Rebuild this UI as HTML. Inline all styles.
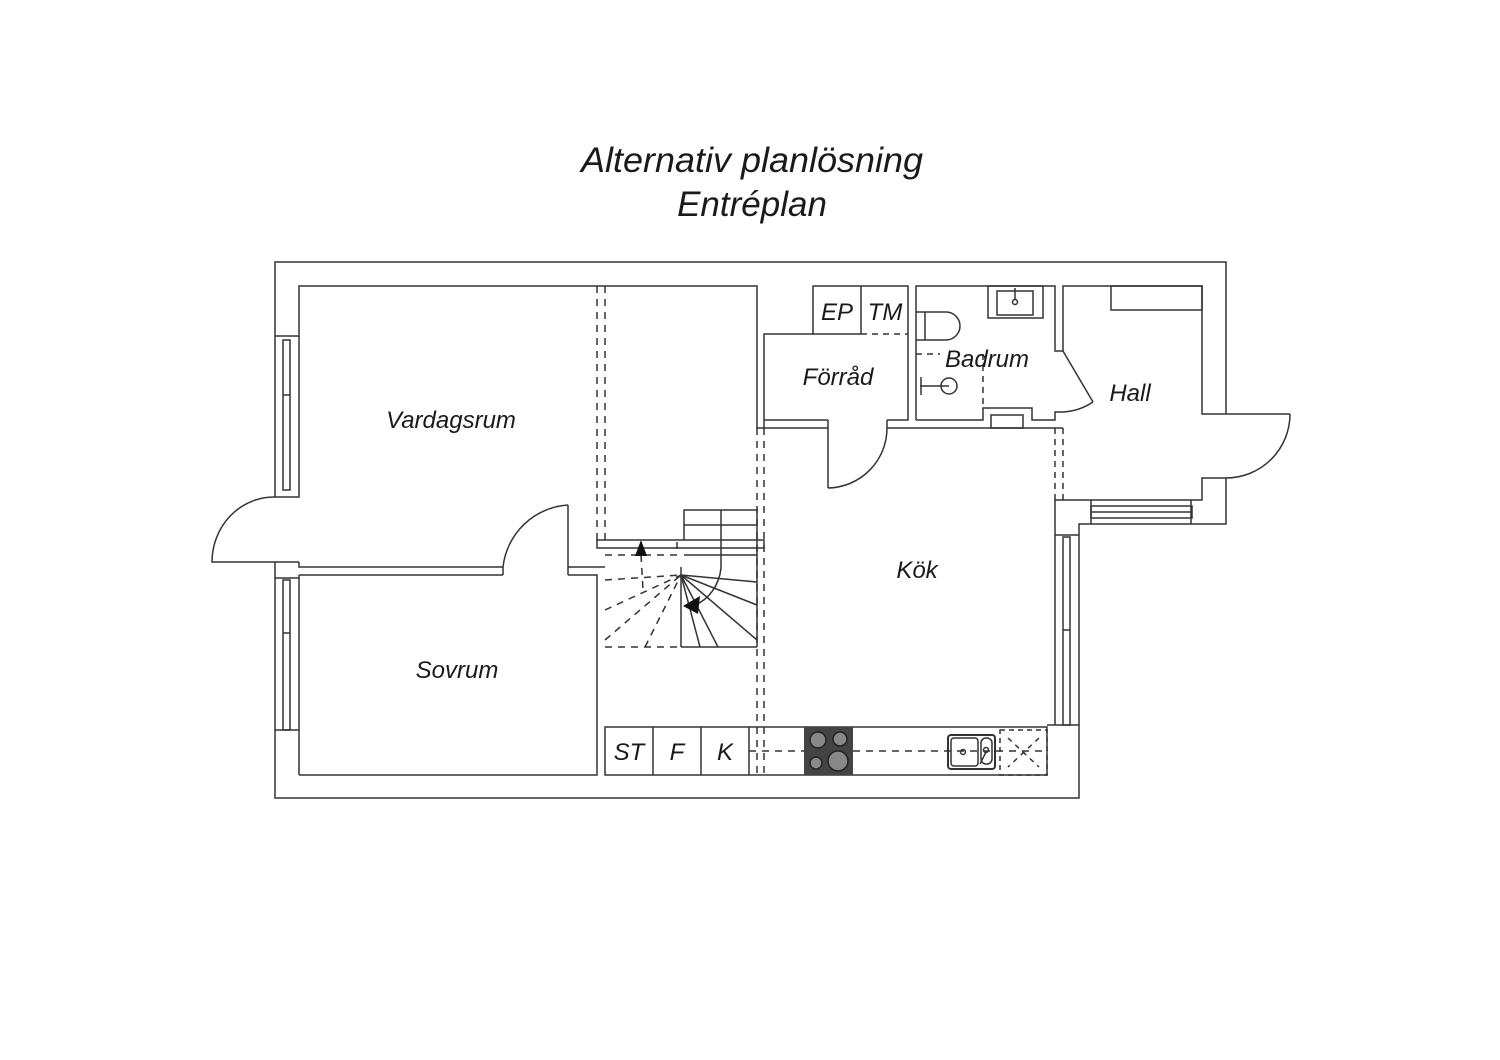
<!DOCTYPE html>
<html><head><meta charset="utf-8"><style>
html,body{margin:0;padding:0;background:#fff;}
svg{display:block;}
text{font-family:"Liberation Sans",sans-serif;font-style:italic;fill:#1a1a1a;}
</style></head><body>
<svg width="1500" height="1060" viewBox="0 0 1500 1060" xmlns="http://www.w3.org/2000/svg">
<text x="752" y="172" font-size="35" text-anchor="middle" textLength="342" lengthAdjust="spacingAndGlyphs">Alternativ planlösning</text>
<text x="752" y="216" font-size="35" text-anchor="middle">Entréplan</text>
<g fill="none" stroke="#333" stroke-width="1.5">
<polyline points="275,497 275,262 1226,262 1226,414"/>
<polyline points="1226,478 1226,524 1079,524 1079,798 275,798 275,562"/>
<polyline points="275,336 299,336 299,286 757,286 757,428 764,428 764,334 813,334 813,286 908,286 908,420 887,420"/>
<polyline points="828,420 764,420"/>
<rect x="283" y="340" width="7" height="150"/><line x1="283" y1="395" x2="290" y2="395"/>
<polyline points="275,497 299,497 299,336"/>
<polyline points="299,562 299,567 503,567"/>
<polyline points="275,562 299,562"/>
<polyline points="275,578 299,578"/>
<line x1="299" y1="575" x2="299" y2="775"/>
<rect x="283" y="580" width="7" height="150"/><line x1="283" y1="633" x2="290" y2="633"/>
<line x1="275" y1="730" x2="299" y2="730"/>
<polyline points="299,575 503,575"/>
<polyline points="568,567 605,567"/>
<polyline points="568,575 597,575 597,775 299,775"/>
<line x1="503" y1="567" x2="503" y2="575"/><line x1="568" y1="505" x2="568" y2="575"/>
<path d="M568,505 A70,70 0 0 0 503,567"/>
<path d="M275,497 A62,65 0 0 0 212,562 L275,562"/>
<line x1="861" y1="286" x2="861" y2="334"/>
<line x1="813" y1="334" x2="861" y2="334"/>
<line x1="861" y1="334" x2="908" y2="334" stroke-dasharray="6,5"/>
<line x1="828" y1="420" x2="828" y2="488"/>
<path d="M828,488 A60,60 0 0 0 887,428 L887,420"/>
<polyline points="764,428 828,428"/>
<polyline points="887,428 1063,428"/>
<polyline points="916,420 916,286 1055,286 1055,351 1063,351"/>
<polyline points="916,420 983,420 983,408 1032,408 1032,420 1055,420 1055,412 1063,412"/>
<rect x="991" y="415" width="32" height="13"/>
<rect x="988" y="286" width="55" height="32"/>
<rect x="997" y="291" width="36" height="24"/>
<circle cx="1015" cy="302" r="2.5"/><line x1="1015" y1="288" x2="1015" y2="300"/>
<path d="M916,312 L946,312 A14,14 0 0 1 946,340 L916,340"/><line x1="925" y1="312" x2="925" y2="340"/>
<circle cx="949" cy="386" r="8"/><line x1="920" y1="386" x2="949" y2="386"/><line x1="921" y1="377" x2="921" y2="395"/>
<line x1="916" y1="354" x2="940" y2="354" stroke-dasharray="6,5"/>
<line x1="983" y1="354" x2="983" y2="408" stroke-dasharray="6,5"/>
<polyline points="1063,351 1063,286 1202,286 1202,414 1290,414"/>
<rect x="1111" y="286" width="91" height="24"/>
<line x1="1063" y1="351" x2="1093" y2="402"/>
<path d="M1093,402 A60,60 0 0 1 1063,412"/>
<path d="M1290,414 A64,64 0 0 1 1226,478 L1202,478 L1202,500 L1055,500 L1055,725"/>
<line x1="1063" y1="500" x2="1063" y2="428" stroke-dasharray="6,5"/>
<line x1="1055" y1="500" x2="1055" y2="428" stroke-dasharray="6,5"/>
<rect x="1091" y="506" width="101" height="12"/><line x1="1091" y1="512" x2="1192" y2="512"/>
<line x1="1191" y1="500" x2="1191" y2="524"/><line x1="1091" y1="500" x2="1091" y2="524"/>
<line x1="1055" y1="535" x2="1079" y2="535"/>
<rect x="1063" y="537" width="7" height="188"/><line x1="1063" y1="630" x2="1070" y2="630"/>
<line x1="1047" y1="725" x2="1079" y2="725"/>
<g stroke-dasharray="7,6">
<line x1="597" y1="286" x2="597" y2="540"/><line x1="605" y1="286" x2="605" y2="540"/>
<line x1="757" y1="428" x2="757" y2="775"/><line x1="764" y1="428" x2="764" y2="775"/>
<line x1="749" y1="751" x2="1047" y2="751"/>
<polyline points="605,555 677,555 677,540"/>
<line x1="605" y1="647" x2="681" y2="647"/>
<line x1="605" y1="580" x2="681" y2="575"/><line x1="605" y1="610" x2="681" y2="575"/>
<line x1="605" y1="640" x2="681" y2="575"/><line x1="645" y1="647" x2="681" y2="575"/>
<line x1="641" y1="555" x2="643" y2="590"/>
</g>
<rect x="597" y="540" width="167" height="8"/>
<polyline points="684,540 684,510 757,510 757,647"/>
<line x1="684" y1="525" x2="757" y2="525"/>
<line x1="684" y1="555" x2="757" y2="555"/>
<line x1="721" y1="510" x2="721" y2="568"/>
<path d="M721,568 A40,45 0 0 1 695,605"/>
<line x1="681" y1="567" x2="681" y2="647"/>
<line x1="681" y1="647" x2="757" y2="647"/>
<line x1="681" y1="575" x2="757" y2="582"/><line x1="681" y1="575" x2="757" y2="605"/>
<line x1="681" y1="575" x2="757" y2="640"/><line x1="681" y1="575" x2="718" y2="647"/>
<line x1="681" y1="575" x2="700" y2="647"/>
<rect x="605" y="727" width="442" height="48"/>
<line x1="653" y1="727" x2="653" y2="775"/><line x1="701" y1="727" x2="701" y2="775"/><line x1="749" y1="727" x2="749" y2="775"/>
<rect x="1000" y="730" width="47" height="45" stroke-dasharray="5,4"/>
<line x1="1008" y1="738" x2="1039" y2="767" stroke-dasharray="5,5"/><line x1="1039" y1="738" x2="1008" y2="767" stroke-dasharray="5,5"/>
<rect x="948" y="735" width="47" height="34" rx="3" stroke-width="2"/>
<rect x="951" y="738" width="27" height="28" rx="3"/>
<rect x="981" y="738" width="11" height="26" rx="5"/>
<circle cx="963" cy="752" r="2.5"/><circle cx="986" cy="750" r="2.5"/>
<line x1="986" y1="752" x2="980" y2="764"/>
</g>
<rect x="804" y="727" width="49" height="48" fill="#444"/>
<g fill="#888" stroke="#222" stroke-width="1.5">
<circle cx="818" cy="740" r="8"/><circle cx="840" cy="739" r="7"/>
<circle cx="816" cy="763" r="6"/><circle cx="838" cy="761" r="10"/>
</g>
<polygon points="641,540 635,556 647,556" fill="#111"/>
<polygon points="683,606 700,596 698,614" fill="#111"/>
<g font-size="24">
<text x="451" y="428" text-anchor="middle">Vardagsrum</text>
<text x="457" y="678" text-anchor="middle">Sovrum</text>
<text x="838" y="385" text-anchor="middle">Förråd</text>
<text x="987" y="367" text-anchor="middle">Badrum</text>
<text x="1130" y="401" text-anchor="middle">Hall</text>
<text x="917" y="578" text-anchor="middle">Kök</text>
<text x="837" y="320" text-anchor="middle">EP</text>
<text x="885" y="320" text-anchor="middle">TM</text>
<text x="629" y="760" text-anchor="middle">ST</text>
<text x="677" y="760" text-anchor="middle">F</text>
<text x="725" y="760" text-anchor="middle">K</text>
</g>
</svg>
</body></html>
